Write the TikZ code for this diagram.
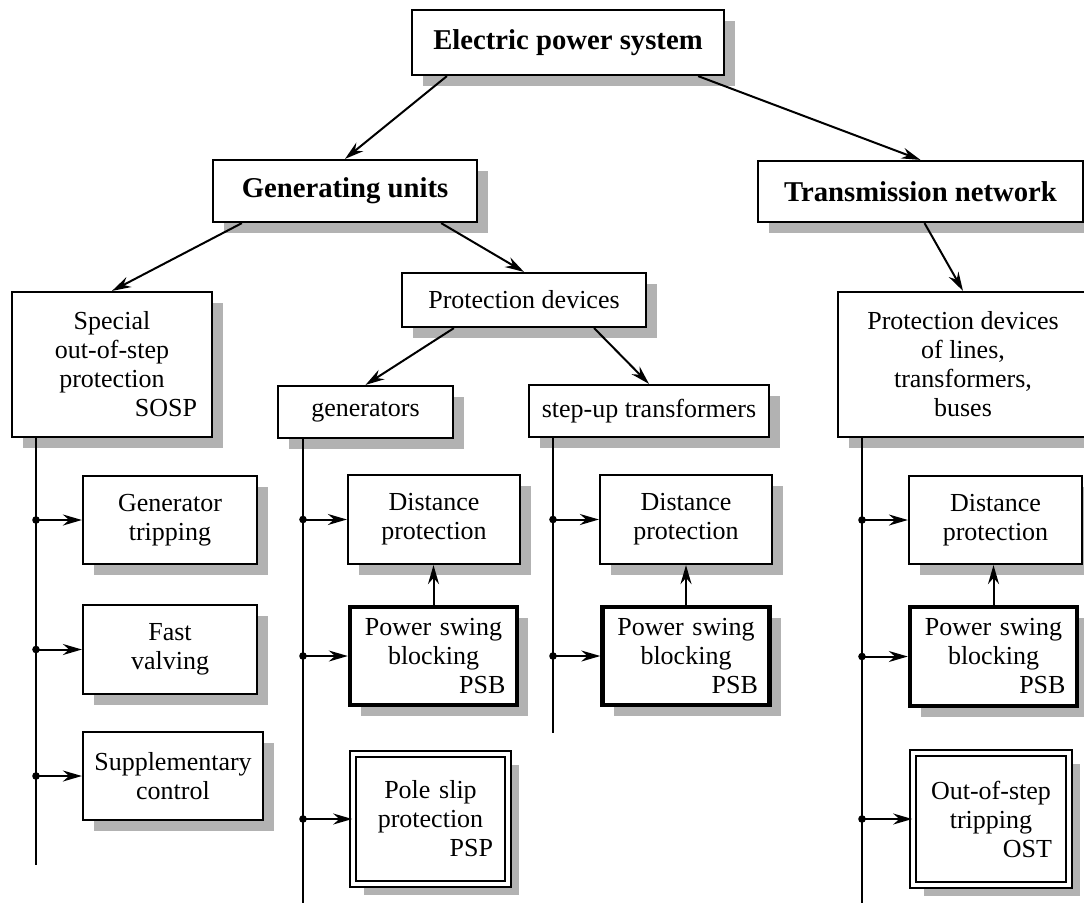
\documentclass[tikz,border=0pt]{standalone}
\usepackage{fontspec}
\setmainfont{Liberation Serif}
\usetikzlibrary{arrows.meta,shadows}
\begin{document}
\begin{tikzpicture}[
  x=1pt, y=-1pt,
  block/.style={rectangle, draw, line width=2.2pt, fill=white, align=center, inner sep=0pt,
    drop shadow={shadow xshift=11pt, shadow yshift=-11pt, fill=black!30, opacity=1},
    font=\fontsize{26}{29}\selectfont},
  title/.style={block, font=\fontsize{28.7}{32}\selectfont\bfseries},
  psbblock/.style={block, line width=4.4pt},
  tripblock/.style={block, line width=1.6pt, double, double distance=4.5pt},
  arr/.style={-{Stealth[length=19pt,width=11pt]}, line width=2pt},
  bus/.style={line width=2pt}
]
\useasboundingbox (0,0) rectangle (1084,903);

\node[title, minimum width=312, minimum height=65] (eps) at (568,42.5) {Electric power system};
\node[title, minimum width=264, minimum height=62] (gen) at (345,191) {Generating units};
\node[title, minimum width=325, minimum height=61] (trans) at (920.5,191.5) {Transmission network};

\node[block, minimum width=200, minimum height=145, text width=170] (sosp) at (112,364.5) {Special\\out-of-step\\protection\\\mbox{}\hfill SOSP};
\node[block, minimum width=244, minimum height=54] (prot) at (524,300) {Protection devices};
\node[block, minimum width=175, minimum height=52] (gens) at (365.5,412) {generators};
\node[block, minimum width=240, minimum height=52] (stepup) at (649,411) {step-up transformers};
\node[block, minimum width=250, minimum height=145] (lines) at (963,364.5) {Protection devices\\of lines,\\transformers,\\buses};

\node[block, minimum width=174, minimum height=88] (trip) at (170,520) {Generator\\tripping};
\node[block, minimum width=174, minimum height=89] (valve) at (170,649.5) {Fast\\valving};
\node[block, minimum width=180, minimum height=88] (suppl) at (173,776) {Supplementary\\control};

\node[block, minimum width=172, minimum height=89] (dist1) at (434,519.5) {Distance\\protection};
\node[psbblock, minimum width=167, minimum height=98, text width=144] (psb1) at (433.5,656) {Power swing\\blocking\\\mbox{}\hfill PSB};
\node[tripblock, minimum width=155, minimum height=130, text width=125] (psp) at (430.5,819) {Pole slip\\protection\\\mbox{}\hfill PSP};

\node[block, minimum width=172, minimum height=89] (dist2) at (686,519.5) {Distance\\protection};
\node[psbblock, minimum width=167, minimum height=98, text width=144] (psb2) at (686,656) {Power swing\\blocking\\\mbox{}\hfill PSB};

\node[block, minimum width=173, minimum height=88] (dist3) at (995.5,520) {Distance\\protection};
\node[psbblock, minimum width=167, minimum height=99, text width=144] (psb3) at (993.5,656.5) {Power swing\\blocking\\\mbox{}\hfill PSB};
\node[tripblock, minimum width=156, minimum height=132, text width=122] (ost) at (991,819) {Out-of-step\\tripping\\\mbox{}\hfill OST};

\draw[arr] ([xshift=36pt]eps.south west) -- (gen.north);
\draw[arr] ([xshift=-27pt]eps.south east) -- (trans.north);
\draw[arr] ([xshift=30pt]gen.south west) -- (sosp.north);
\draw[arr] ([xshift=-37pt]gen.south east) -- (prot.north);
\draw[arr] ([xshift=53pt]prot.south west) -- (gens.north);
\draw[arr] ([xshift=-53pt]prot.south east) -- (stepup.north);
\draw[arr] ([xshift=4pt]trans.south) -- (lines.north);

% Buses
\coordinate (b1) at (36,865);
\coordinate (b2) at (303,903);
\coordinate (b3) at (553,733);
\coordinate (b4) at (862,903);
\draw[bus] (sosp.south -| b1) -- (b1);
\draw[bus] (gens.south -| b2) -- (b2);
\draw[bus] (stepup.south -| b3) -- (b3);
\draw[bus] (lines.south -| b4) -- (b4);

\draw[arr] (trip.west -| b1) -- (trip.west);
\draw[arr] (valve.west -| b1) -- (valve.west);
\draw[arr] (suppl.west -| b1) -- (suppl.west);
\draw[arr] (dist1.west -| b2) -- (dist1.west);
\draw[arr] (psb1.west -| b2) -- (psb1.west);
\draw[arr] (psp.west -| b2) -- (psp.west);
\draw[arr] (dist2.west -| b3) -- (dist2.west);
\draw[arr] (psb2.west -| b3) -- (psb2.west);
\draw[arr] (dist3.west -| b4) -- (dist3.west);
\draw[arr] (psb3.west -| b4) -- (psb3.west);
\draw[arr] (ost.west -| b4) -- (ost.west);

\fill (trip.west -| b1) circle (3.8pt) (valve.west -| b1) circle (3.8pt) (suppl.west -| b1) circle (3.8pt);
\fill (dist1.west -| b2) circle (3.8pt) (psb1.west -| b2) circle (3.8pt) (psp.west -| b2) circle (3.8pt);
\fill (dist2.west -| b3) circle (3.8pt) (psb2.west -| b3) circle (3.8pt);
\fill (dist3.west -| b4) circle (3.8pt) (psb3.west -| b4) circle (3.8pt) (ost.west -| b4) circle (3.8pt);

% Blocking signals
\draw[arr] (psb1.north) -- (psb1.north |- dist1.south);
\draw[arr] (psb2.north) -- (psb2.north |- dist2.south);
\draw[arr] (psb3.north) -- (psb3.north |- dist3.south);
\end{tikzpicture}
\end{document}
